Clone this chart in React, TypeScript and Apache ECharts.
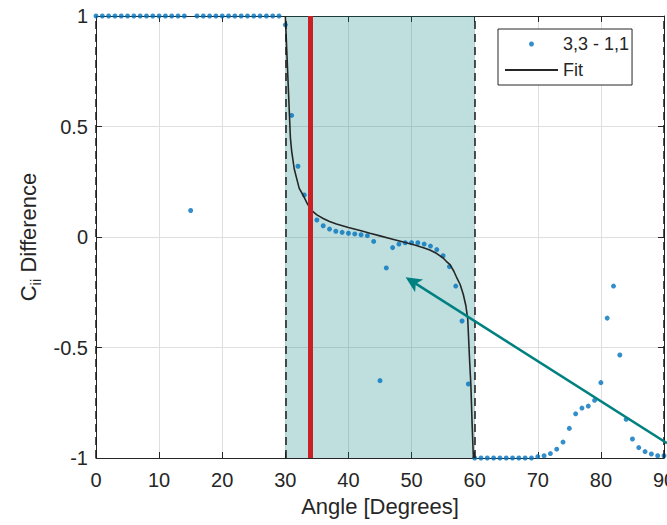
import React, { useEffect, useRef } from "react";
import * as echarts from "echarts";

const FONT = '"Liberation Sans", Arial, Helvetica, sans-serif';
const TEXT = "#262626";

// x ticks
const xMin = 0;
const xMax = 90;
const xStep = 10;
const yMin = -1;
const yMax = 1;
const yStep = 0.5;

// measured points "3,3 - 1,1"
const pointAngles = [
  0, 1, 2, 3, 4, 5, 6, 7, 8, 9, 10, 11, 12, 13, 14, 15, 16, 17, 18, 19, 20, 21, 22,
  23, 24, 25, 26, 27, 28, 29, 30, 31, 32, 33, 34, 35, 36, 37, 38, 39, 40, 41, 42, 43,
  44, 45, 46, 47, 48, 49, 50, 51, 52, 53, 54, 55, 56, 57, 58, 59, 60, 61, 62, 63, 64,
  65, 66, 67, 68, 69, 70, 71, 72, 73, 74, 75, 76, 77, 78, 79, 80, 81, 82, 83, 84, 85,
  86, 87, 88, 89, 90,
];
const pointValues = [
  1, 1, 1, 1, 1, 1, 1, 1, 1, 1, 1, 1, 1, 1, 1, 0.12, 1, 1, 1, 1, 1, 1, 1,
  1, 1, 1, 1, 1, 1, 1, 0.96, 0.55, 0.32, 0.19, 0.12, 0.077, 0.051, 0.036, 0.026, 0.021, 0.017, 0.014, 0.01, 0.006,
  -0.02, -0.65, -0.14, -0.048, -0.032, -0.026, -0.026, -0.026, -0.032, -0.041, -0.057, -0.085, -0.134, -0.222, -0.38, -0.665, -1, -1, -1, -1, -1,
  -1, -1, -1, -1, -1, -0.994, -0.99, -0.98, -0.96, -0.928, -0.866, -0.8, -0.774, -0.765, -0.739, -0.659, -0.367, -0.222, -0.534, -0.825, -0.914,
  -0.953, -0.971, -0.982, -0.99, -0.99,
];

// fit curve
const fitAngles = [
  30, 30.8, 31, 31.4, 31.75, 32.2, 32.8, 33.5, 34.1, 35, 36, 37, 38.1, 40, 42, 43.4,
  45, 47, 48.7, 50.5, 52, 52.9, 54, 55, 55.5, 56.1, 56.7, 57.1, 57.7, 58.2, 58.6,
  58.9, 59.2, 59.4, 59.6, 59.8,
];
const fitValues = [
  1, 0.45, 0.39, 0.31, 0.27, 0.22, 0.19, 0.15, 0.122, 0.1, 0.084, 0.07, 0.059, 0.043, 0.028, 0.017,
  0.005, -0.01, -0.023, -0.036, -0.05, -0.059, -0.075, -0.095, -0.11, -0.125, -0.155, -0.18, -0.215, -0.26, -0.31,
  -0.37, -0.56, -0.67, -0.85, -1,
];

// annotations
const regionBounds = [30, 60];
const dashedLines = [0, 30, 60, 90];
const redLine = 34;
const arrowTip = [49.06, -0.182];
const arrowTail = [90.48, -0.933];

const seriesName = "3,3 - 1,1";
const fitName = "Fit";

export default function App() {
  const ref = useRef<HTMLDivElement>(null);

  useEffect(() => {
    const chart = echarts.init(ref.current!, null, { renderer: "svg" });
    const axisCommon = {
      axisLine: { show: true, onZero: false, lineStyle: { color: TEXT, width: 1 } },
      axisTick: { show: true, inside: true, length: 6, lineStyle: { color: TEXT, width: 1 } },
    };
    const option: any = {
      animation: false,
      backgroundColor: "#ffffff",
      textStyle: { fontFamily: FONT },
      grid: { left: 96, right: 3, top: 16, bottom: 67, containLabel: false, outerBoundsMode: "none" },
      legend: {
        orient: "vertical",
        left: 498,
        top: 29,
        padding: [5, 3, 5, 6],
        itemGap: 6,
        itemWidth: 53,
        itemHeight: 5,
        borderColor: TEXT,
        borderWidth: 1,
        borderRadius: 0,
        backgroundColor: "#ffffff",
        selectedMode: false,
        textStyle: { fontSize: 18, fontFamily: FONT, color: TEXT, lineHeight: 20 },
        data: [
          { name: seriesName, icon: "circle" },
          { name: fitName, itemStyle: { opacity: 0, color: "rgba(0,0,0,0)", borderWidth: 0 } },
        ],
      },
      xAxis: [
        {
          type: "value",
          min: xMin,
          max: xMax,
          interval: xStep,
          ...axisCommon,
          axisLabel: { fontSize: 20, fontFamily: FONT, color: TEXT, margin: 12 },
          splitLine: { show: true, lineStyle: { color: "#dfdfdf", width: 1 } },
          name: "Angle [Degrees]",
          nameLocation: "middle",
          nameGap: 37,
          nameTextStyle: { fontSize: 22, fontFamily: FONT, color: TEXT },
        },
        {
          type: "value",
          position: "top",
          min: xMin,
          max: xMax,
          interval: xStep,
          ...axisCommon,
          axisLabel: { show: false },
          splitLine: { show: false },
        },
      ],
      yAxis: [
        {
          type: "value",
          min: yMin,
          max: yMax,
          interval: yStep,
          ...axisCommon,
          axisLabel: { fontSize: 20, fontFamily: FONT, color: TEXT, margin: 8 },
          splitLine: { show: true, lineStyle: { color: "#dfdfdf", width: 1 } },
          name: "{c|C}{s|ii}{c| Difference}",
          nameLocation: "middle",
          nameRotate: 90,
          nameGap: 52,
          nameTextStyle: {
            fontSize: 22,
            fontFamily: FONT,
            color: TEXT,
            rich: {
              c: { fontSize: 22, fontFamily: FONT, color: TEXT, lineHeight: 30 },
              s: { fontSize: 15, fontFamily: FONT, color: TEXT, lineHeight: 18, padding: [14, 0, 0, 0] },
            },
          },
        },
        {
          type: "value",
          position: "right",
          min: yMin,
          max: yMax,
          interval: yStep,
          ...axisCommon,
          axisLabel: { show: false },
          splitLine: { show: false },
        },
      ],
      series: [
        {
          name: seriesName,
          type: "scatter",
          xAxisIndex: 0,
          yAxisIndex: 0,
          symbol: "circle",
          symbolSize: 5,
          itemStyle: { color: "#0072BD" },
          data: pointAngles.map((a, i) => [a, pointValues[i]]),
          z: 3,
          markArea: {
            silent: true,
            itemStyle: { color: "rgba(0,128,128,0.25)" },
            data: [[{ xAxis: regionBounds[0] }, { xAxis: regionBounds[1] }]],
          },
          markLine: {
            silent: true,
            symbol: ["none", "none"],
            label: { show: false },
            emphasis: { disabled: true },
            data: [
              ...dashedLines.map((v) => ({
                xAxis: v,
                lineStyle: { color: "#1a1a1a", width: 1.5, type: [8, 5] },
              })),
              { xAxis: redLine, lineStyle: { color: "#c91f25", width: 5, type: "solid" } },
            ],
          },
        },
        {
          name: fitName,
          type: "line",
          xAxisIndex: 0,
          yAxisIndex: 0,
          showSymbol: false,
          symbol: "none",
          smooth: false,
          lineStyle: { color: "#262626", width: 1.6 },
          itemStyle: { color: "#262626" },
          data: fitAngles.map((a, i) => [a, fitValues[i]]),
          z: 4,
        },
      ],
    };
    chart.setOption(option);

    const tip = chart.convertToPixel({ seriesIndex: 0 }, arrowTip) as number[];
    const tail = chart.convertToPixel({ seriesIndex: 0 }, arrowTail) as number[];
    const dx = tail[0] - tip[0];
    const dy = tail[1] - tip[1];
    const len = Math.sqrt(dx * dx + dy * dy);
    const ux = dx / len;
    const uy = dy / len;
    const nx = -uy;
    const ny = ux;
    const headLen = 16;
    const headHalf = 7.5;
    const notch = 12;
    const arrowColor = "#008080";
    chart.setOption({
      graphic: [
        {
          type: "line",
          silent: true,
          z: 100,
          shape: { x1: tail[0], y1: tail[1], x2: tip[0] + ux * notch, y2: tip[1] + uy * notch },
          style: { stroke: arrowColor, lineWidth: 2.5 },
        },
        {
          type: "polygon",
          silent: true,
          z: 101,
          shape: {
            points: [
              [tip[0], tip[1]],
              [tip[0] + ux * headLen + nx * headHalf, tip[1] + uy * headLen + ny * headHalf],
              [tip[0] + ux * notch, tip[1] + uy * notch],
              [tip[0] + ux * headLen - nx * headHalf, tip[1] + uy * headLen - ny * headHalf],
            ],
          },
          style: { fill: arrowColor },
        },
      ],
    });

    return () => chart.dispose();
  }, []);

  return (
    <div
      ref={ref}
      style={{ position: "fixed", left: 0, top: 0, width: 667, height: 525 }}
    />
  );
}
